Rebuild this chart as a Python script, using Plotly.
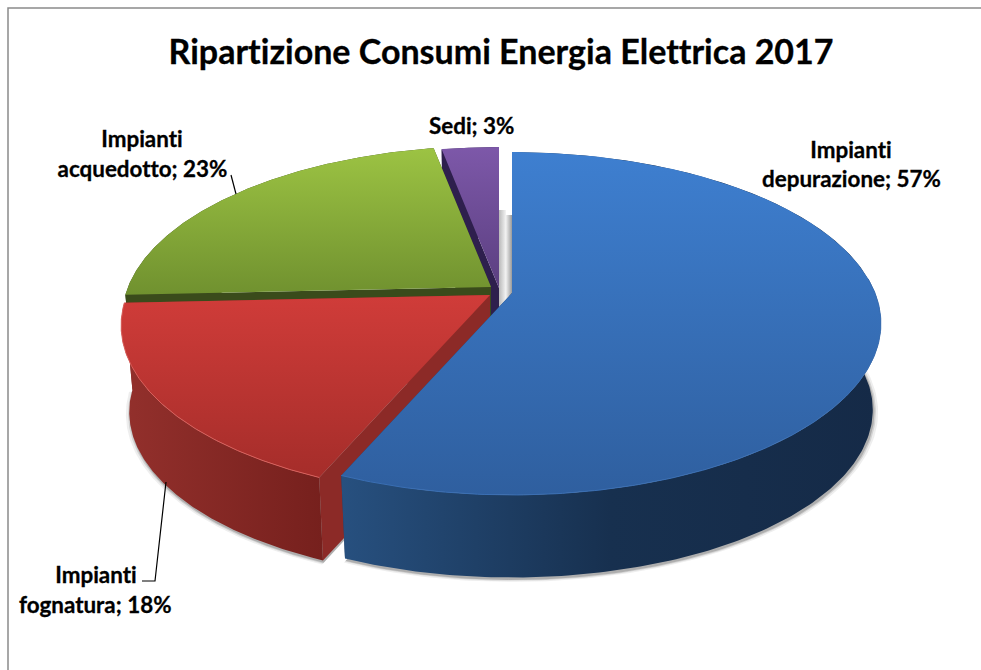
import numpy as np
import plotly.graph_objects as go

# --- data ---
categories = ["Impianti depurazione", "Impianti fognatura", "Impianti acquedotto", "Sedi"]
values = [57, 18, 23, 3]
title_text = "Ripartizione Consumi Energia Elettrica 2017"

# --- projection of the tilted disc (screen pixels) ---
A, B, K = 363.0, 166.0, 0.178      # half axes and perspective strength
DEPTH, FLOOR_SCALE = 87.0, 0.978   # height of the disc, shrink of its floor
apex = {"Impianti depurazione": (512, 293), "Impianti fognatura": (490, 295),
        "Impianti acquedotto": (491, 287), "Sedi": (499, 288)}
style = {
    "Impianti depurazione": dict(top=("#3e7fd0", "#2f5f9f"), side=[[0, "#27507f"], [0.5, "#17304f"], [1, "#152a47"]], wall="#1d3a60", rim="#3a6fb4"),
    "Impianti fognatura": dict(top=("#d03c39", "#a52d2a"), side=[[0, "#93302c"], [1, "#76201d"]], wall="#8c2a27", rim="#d9605c"),
    "Impianti acquedotto": dict(top=("#9cc343", "#70912f"), side=[[0, "#3a4b1b"], [1, "#3a4b1b"]], wall="#3a4b1b", rim=None),
    "Sedi": dict(top=("#7d58a9", "#5b3f80"), side=[[0, "#2e1f4d"], [1, "#2e1f4d"]], wall="#2e1f4d", rim=None),
}


def project(name, deg, floor=False, grow=1.0):
    ax, ay = apex[name]
    t = np.radians(deg)
    u, v = np.sin(t), np.cos(t)
    s = (FLOOR_SCALE if floor else 1.0) * grow
    d = DEPTH if floor else 0.0
    w = 1 + K * v
    return ax + s * A * u / w, ay + d - s * B * v / w


def poly(xs, ys, scale, kind, name):
    return go.Scatter(
        x=list(xs) + [xs[0]], y=list(ys) + [ys[0]], mode="lines", fill="toself",
        line=dict(width=0, color=scale[0][1]), hoverinfo="skip", name=name,
        fillgradient=dict(type=kind, colorscale=scale),
    )


def flat(c):
    return [[0, c], [1, c]]


total = sum(values)
spans = {}
start = 0.0
for cat, val in zip(categories, values):
    spans[cat] = (start, start + val / total * 360)
    start += val / total * 360

traces = []

# soft shadow on the ground below the front slices
for grow, op in [(1.012, 0.10), (1.006, 0.18), (1.002, 0.30)]:
    for cat in categories[:2]:
        a0, a1 = spans[cat]
        th = np.linspace(a0, a1, 200)
        x, y = project(cat, th, floor=True, grow=grow)
        ax, ay = apex[cat]
        traces.append(go.Scatter(
            x=list(x + 1) + [ax, x[0] + 1], y=list(y + 2) + [ay + DEPTH, y[0] + 2], mode="lines", fill="toself",
            line=dict(width=0), fillcolor=f"rgba(90,90,90,{op})", hoverinfo="skip"))

# shadow strips in the gap between the purple and blue slices
ax, ay = apex["Sedi"]
traces.append(poly([ax, ax + 7, ax + 7, ax], [210, 210, 312, 312], [[0, "#b9b9b9"], [1, "#f4f4f4"]], "horizontal", "shadow"))
ax, ay = apex["Impianti depurazione"]
traces.append(poly([ax - 6, ax, ax, ax - 6], [215, 215, 300, 300], [[0, "#f0f0f0"], [1, "#9a9a9a"]], "horizontal", "shadow"))

# back to front: purple, green, red, blue
for cat in reversed(categories):
    a0, a1 = spans[cat]
    st = style[cat]
    ax, ay = apex[cat]
    th = np.linspace(a0, a1, 240)
    xt, yt = project(cat, th)
    xb, yb = project(cat, th, floor=True)

    # inner walls
    for end in (0, -1):
        traces.append(poly([ax, xt[end], xb[end], ax], [ay, yt[end], yb[end], ay + DEPTH],
                           flat(st["wall"]), "horizontal", cat))
    # outer wall
    traces.append(poly(list(xt) + list(xb[::-1]), list(yt) + list(yb[::-1]),
                       st["side"], "horizontal", cat))
    # top face (the y axis runs downward, so the gradient stops are swapped)
    traces.append(poly([ax] + list(xt), [ay] + list(yt), [[0, st["top"][1]], [1, st["top"][0]]], "vertical", cat))
    # light rim along the front edge
    if st["rim"]:
        front = np.cos(np.radians(th)) < 0.1
        traces.append(go.Scatter(x=xt[front], y=yt[front], mode="lines",
                                 line=dict(color=st["rim"], width=1), hoverinfo="skip"))

fig = go.Figure(traces)

# leader lines
fig.add_trace(go.Scatter(x=[231, 236], y=[175, 194], mode="lines", line=dict(color="black", width=1.2), hoverinfo="skip"))
fig.add_trace(go.Scatter(x=[166, 155, 142], y=[482, 581, 581], mode="lines", line=dict(color="black", width=1.2), hoverinfo="skip"))

FONT = "Lato"
label_lines = [
    ("Impianti", 851, 149), ("depurazione; 57%", 851, 178),
    ("Sedi; 3%", 471, 125),
    ("Impianti", 142, 138), ("acquedotto; 23%", 142, 168),
    ("Impianti", 95.5, 574), ("fognatura; 18%", 95.5, 604),
]
for text, x, y in label_lines:
    fig.add_annotation(x=x, y=y, text=f"<b>{text}</b>", showarrow=False, xanchor="center", yanchor="middle",
                       font=dict(family=FONT, size=22.4, color="black"))
fig.add_annotation(x=501, y=50, text=f"<b>{title_text}</b>", showarrow=False, xanchor="center", yanchor="middle",
                   font=dict(family=FONT, size=34, color="black"))

# chart frame (runs off the right and bottom of the picture)
fig.add_shape(type="rect", x0=8, y0=8, x1=1000, y1=700, line=dict(color="#8a8a8a", width=1.5), layer="below")

fig.update_layout(
    width=981, height=670, margin=dict(l=0, r=0, t=0, b=0),
    paper_bgcolor="white", plot_bgcolor="white", showlegend=False,
    xaxis=dict(range=[0, 981], visible=False, fixedrange=True),
    yaxis=dict(range=[670, 0], visible=False, fixedrange=True),
)
page_css = ("document.body.style.margin='0';document.documentElement.style.overflow='hidden';"
            "var s=document.createElement('style');"
            "s.textContent='text{font-variant-ligatures:none !important;font-feature-settings:\"liga\" 0,\"clig\" 0 !important;"
            "stroke:black;stroke-width:0.3px}';"
            "document.head.appendChild(s);")
fig.write_html("out.html", config={"displayModeBar": False}, post_script=page_css)
